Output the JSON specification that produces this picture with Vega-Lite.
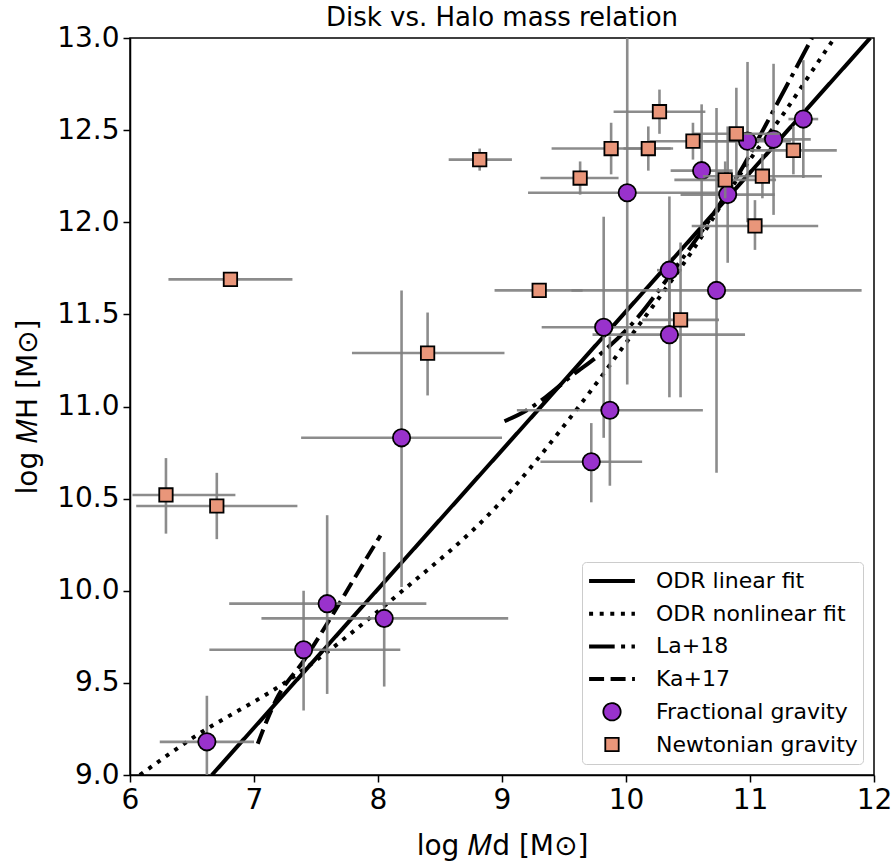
{
  "$schema": "https://vega.github.io/schema/vega-lite/v6.json",
  "width": 744,
  "height": 737,
  "autosize": {"type": "none"},
  "padding": {"left": 130, "top": 38, "right": 20, "bottom": 90},
  "background": "white",
  "title": {"text": "Disk vs. Halo mass relation", "fontSize": 26, "font": "DejaVu Sans", "fontWeight": "normal", "color": "black", "anchor": "middle", "offset": -7},
  "config": {
    "font": "DejaVu Sans",
    "view": {"stroke": "black", "strokeWidth": 1.5},
    "axis": {"grid": false, "domainColor": "black", "domainWidth": 1.5, "tickColor": "black", "tickWidth": 1.5, "tickSize": 7, "labelFontSize": 28, "titleFontSize": 28, "labelColor": "black", "titleColor": "black", "titleFontWeight": "normal", "labelFont": "DejaVu Sans", "titleFont": "DejaVu Sans", "labelPadding": 4, "labelOverlap": false, "labelFlush": false},
    "legend": {"orient": "bottom-right", "offset": 11, "title": null, "labelFontSize": 22, "labelFont": "DejaVu Sans", "labelColor": "black", "labelLimit": 400, "strokeColor": "#cccccc", "fillColor": "white", "cornerRadius": 4, "padding": 5, "rowPadding": 4.7, "clipHeight": 28, "labelOffset": 19, "symbolStrokeColor": "black"}
  },
  "datasets": {
    "fits": [
      {"series": "ODR linear fit", "x": 6.66, "y": 9.0},
      {"series": "ODR linear fit", "x": 11.97, "y": 13.0},
      {"series": "ODR nonlinear fit", "x": 6.08, "y": 9.0},
      {"series": "ODR nonlinear fit", "x": 6.48, "y": 9.19},
      {"series": "ODR nonlinear fit", "x": 7.29, "y": 9.52},
      {"series": "ODR nonlinear fit", "x": 8.18, "y": 9.99},
      {"series": "ODR nonlinear fit", "x": 8.96, "y": 10.46},
      {"series": "ODR nonlinear fit", "x": 9.62, "y": 11.0},
      {"series": "ODR nonlinear fit", "x": 10.07, "y": 11.41},
      {"series": "ODR nonlinear fit", "x": 10.53, "y": 11.84},
      {"series": "ODR nonlinear fit", "x": 11.0, "y": 12.34},
      {"series": "ODR nonlinear fit", "x": 11.24, "y": 12.56},
      {"series": "ODR nonlinear fit", "x": 11.55, "y": 12.87},
      {"series": "ODR nonlinear fit", "x": 11.68, "y": 13.0},
      {"series": "La+18", "x": 9.02, "y": 10.92},
      {"series": "La+18", "x": 9.2, "y": 10.98},
      {"series": "La+18", "x": 9.35, "y": 11.05},
      {"series": "La+18", "x": 9.55, "y": 11.16},
      {"series": "La+18", "x": 9.82, "y": 11.3},
      {"series": "La+18", "x": 10.09, "y": 11.48},
      {"series": "La+18", "x": 10.33, "y": 11.69},
      {"series": "La+18", "x": 10.62, "y": 11.96},
      {"series": "La+18", "x": 10.95, "y": 12.31},
      {"series": "La+18", "x": 11.2, "y": 12.62},
      {"series": "La+18", "x": 11.5, "y": 13.0},
      {"series": "Ka+17", "x": 7.03, "y": 9.17},
      {"series": "Ka+17", "x": 7.18, "y": 9.41},
      {"series": "Ka+17", "x": 7.4, "y": 9.62},
      {"series": "Ka+17", "x": 7.67, "y": 9.91},
      {"series": "Ka+17", "x": 7.83, "y": 10.09},
      {"series": "Ka+17", "x": 8.02, "y": 10.3}
    ],
    "frac": [
      {"series": "Fractional gravity", "x": 6.62, "y": 9.18, "xlo": 6.24, "xhi": 7.0, "ylo": 8.93, "yhi": 9.43},
      {"series": "Fractional gravity", "x": 7.4, "y": 9.68, "xlo": 6.64, "xhi": 8.18, "ylo": 9.35, "yhi": 10.0},
      {"series": "Fractional gravity", "x": 7.59, "y": 9.93, "xlo": 6.8, "xhi": 8.39, "ylo": 9.44, "yhi": 10.41},
      {"series": "Fractional gravity", "x": 8.05, "y": 9.85, "xlo": 7.06, "xhi": 9.05, "ylo": 9.48, "yhi": 10.21},
      {"series": "Fractional gravity", "x": 8.19, "y": 10.83, "xlo": 7.38, "xhi": 9.0, "ylo": 10.02, "yhi": 11.63},
      {"series": "Fractional gravity", "x": 9.72, "y": 10.7, "xlo": 9.31, "xhi": 10.13, "ylo": 10.48, "yhi": 10.91},
      {"series": "Fractional gravity", "x": 9.87, "y": 10.98, "xlo": 9.12, "xhi": 10.62, "ylo": 10.57, "yhi": 11.38},
      {"series": "Fractional gravity", "x": 9.82, "y": 11.43, "xlo": 9.32, "xhi": 10.33, "ylo": 10.83, "yhi": 12.03},
      {"series": "Fractional gravity", "x": 10.35, "y": 11.39, "xlo": 9.73, "xhi": 10.96, "ylo": 11.05, "yhi": 11.73},
      {"series": "Fractional gravity", "x": 10.35, "y": 11.74, "xlo": 10.25, "xhi": 10.45, "ylo": 11.34, "yhi": 12.14},
      {"series": "Fractional gravity", "x": 10.73, "y": 11.63, "xlo": 9.56, "xhi": 11.9, "ylo": 10.64, "yhi": 12.62},
      {"series": "Fractional gravity", "x": 10.01, "y": 12.16, "xlo": 9.21, "xhi": 10.81, "ylo": 11.12, "yhi": 13.2},
      {"series": "Fractional gravity", "x": 10.61, "y": 12.28, "xlo": 10.36, "xhi": 10.86, "ylo": 11.92, "yhi": 12.64},
      {"series": "Fractional gravity", "x": 10.82, "y": 12.15, "xlo": 10.44, "xhi": 11.2, "ylo": 11.78, "yhi": 12.52},
      {"series": "Fractional gravity", "x": 10.98, "y": 12.44, "xlo": 10.63, "xhi": 11.33, "ylo": 12.0, "yhi": 12.87},
      {"series": "Fractional gravity", "x": 11.19, "y": 12.45, "xlo": 10.89, "xhi": 11.49, "ylo": 12.04, "yhi": 12.86},
      {"series": "Fractional gravity", "x": 11.43, "y": 12.56, "xlo": 11.31, "xhi": 11.55, "ylo": 12.24, "yhi": 12.88}
    ],
    "newt": [
      {"series": "Newtonian gravity", "x": 6.29, "y": 10.52, "xlo": 6.02, "xhi": 6.85, "ylo": 10.31, "yhi": 10.72},
      {"series": "Newtonian gravity", "x": 6.7, "y": 10.46, "xlo": 6.05, "xhi": 7.35, "ylo": 10.28, "yhi": 10.64},
      {"series": "Newtonian gravity", "x": 6.81, "y": 11.69, "xlo": 6.31, "xhi": 7.31, "ylo": 11.67, "yhi": 11.71},
      {"series": "Newtonian gravity", "x": 8.4, "y": 11.29, "xlo": 7.79, "xhi": 9.02, "ylo": 11.06, "yhi": 11.51},
      {"series": "Newtonian gravity", "x": 8.82, "y": 12.34, "xlo": 8.57, "xhi": 9.08, "ylo": 12.28, "yhi": 12.4},
      {"series": "Newtonian gravity", "x": 9.63, "y": 12.24, "xlo": 9.31, "xhi": 9.94, "ylo": 12.15, "yhi": 12.33},
      {"series": "Newtonian gravity", "x": 9.88, "y": 12.4, "xlo": 9.4, "xhi": 10.36, "ylo": 12.26, "yhi": 12.54},
      {"series": "Newtonian gravity", "x": 10.18, "y": 12.4, "xlo": 9.98, "xhi": 10.38, "ylo": 12.28, "yhi": 12.52},
      {"series": "Newtonian gravity", "x": 10.27, "y": 12.6, "xlo": 9.9, "xhi": 10.64, "ylo": 12.48, "yhi": 12.72},
      {"series": "Newtonian gravity", "x": 10.54, "y": 12.44, "xlo": 10.19, "xhi": 10.89, "ylo": 12.34, "yhi": 12.54},
      {"series": "Newtonian gravity", "x": 10.89, "y": 12.48, "xlo": 10.54, "xhi": 11.24, "ylo": 12.23, "yhi": 12.73},
      {"series": "Newtonian gravity", "x": 11.35, "y": 12.39, "xlo": 11.0, "xhi": 11.7, "ylo": 12.26, "yhi": 12.52},
      {"series": "Newtonian gravity", "x": 11.1, "y": 12.25, "xlo": 10.62, "xhi": 11.58, "ylo": 12.13, "yhi": 12.37},
      {"series": "Newtonian gravity", "x": 10.8, "y": 12.23, "xlo": 10.39, "xhi": 11.21, "ylo": 12.13, "yhi": 12.33},
      {"series": "Newtonian gravity", "x": 11.04, "y": 11.98, "xlo": 10.53, "xhi": 11.55, "ylo": 11.85, "yhi": 12.12},
      {"series": "Newtonian gravity", "x": 10.44, "y": 11.47, "xlo": 10.13, "xhi": 10.75, "ylo": 11.05, "yhi": 11.89},
      {"series": "Newtonian gravity", "x": 9.3, "y": 11.63, "xlo": 8.94, "xhi": 9.65, "ylo": 11.6, "yhi": 11.66}
    ]
  },
  "encoding": {
    "x": {"field": "x", "type": "quantitative", "scale": {"domain": [6, 12], "nice": false, "zero": false}, "axis": {"title": "log 𝑀d [M⊙]", "values": [6, 7, 8, 9, 10, 11, 12], "format": "d", "titlePadding": 18}},
    "y": {"field": "y", "type": "quantitative", "scale": {"domain": [9, 13], "nice": false, "zero": false}, "axis": {"title": "log 𝑀H [M⊙]", "values": [9, 9.5, 10, 10.5, 11, 11.5, 12, 12.5, 13], "format": ".1f", "titlePadding": 14}}
  },
  "layer": [
    {
      "data": {"name": "fits"},
      "mark": {"type": "line", "color": "black", "clip": true, "interpolate": "monotone", "strokeCap": "butt"},
      "encoding": {
        "detail": {"field": "series", "type": "nominal"},
        "strokeDash": {"field": "series", "type": "nominal", "scale": {"domain": ["ODR linear fit", "ODR nonlinear fit", "La+18", "Ka+17", "Fractional gravity", "Newtonian gravity"], "range": [[1, 0], [4, 6.6], [25.6, 6.4, 4, 6.4], [15, 6.5], [1, 0], [1, 0]]}},
        "strokeWidth": {"field": "series", "type": "ordinal", "scale": {"type": "ordinal", "domain": ["ODR linear fit", "ODR nonlinear fit", "La+18", "Ka+17", "Fractional gravity", "Newtonian gravity"], "range": [4, 4, 4, 4, 1.8, 1.8]}}
      }
    },
    {
      "data": {"name": "frac"},
      "mark": {"type": "rule", "color": "#808080", "strokeWidth": 2.6, "opacity": 0.9, "clip": true},
      "encoding": {"x": {"field": "xlo", "type": "quantitative"}, "x2": {"field": "xhi"}, "y": {"field": "y", "type": "quantitative"}}
    },
    {
      "data": {"name": "frac"},
      "mark": {"type": "rule", "color": "#808080", "strokeWidth": 2.6, "opacity": 0.9, "clip": true},
      "encoding": {"y": {"field": "ylo", "type": "quantitative"}, "y2": {"field": "yhi"}, "x": {"field": "x", "type": "quantitative"}}
    },
    {
      "data": {"name": "frac"},
      "mark": {"type": "point", "filled": true, "stroke": "black", "strokeWidth": 1.8, "opacity": 1, "clip": true},
      "encoding": {
        "color": {"field": "series", "type": "nominal", "scale": {"domain": ["ODR linear fit", "ODR nonlinear fit", "La+18", "Ka+17", "Fractional gravity", "Newtonian gravity"], "range": ["black", "black", "black", "black", "#9932CC", "#E9967A"]}},
        "shape": {"field": "series", "type": "nominal", "scale": {"domain": ["ODR linear fit", "ODR nonlinear fit", "La+18", "Ka+17", "Fractional gravity", "Newtonian gravity"], "range": ["stroke", "stroke", "stroke", "stroke", "circle", "square"]}},
        "size": {"field": "series", "type": "ordinal", "scale": {"type": "ordinal", "domain": ["ODR linear fit", "ODR nonlinear fit", "La+18", "Ka+17", "Fractional gravity", "Newtonian gravity"], "range": [2100, 2100, 2100, 2100, 300, 180]}}
      }
    },
    {
      "data": {"name": "newt"},
      "mark": {"type": "rule", "color": "#808080", "strokeWidth": 2.6, "opacity": 0.9, "clip": true},
      "encoding": {"x": {"field": "xlo", "type": "quantitative"}, "x2": {"field": "xhi"}, "y": {"field": "y", "type": "quantitative"}}
    },
    {
      "data": {"name": "newt"},
      "mark": {"type": "rule", "color": "#808080", "strokeWidth": 2.6, "opacity": 0.9, "clip": true},
      "encoding": {"y": {"field": "ylo", "type": "quantitative"}, "y2": {"field": "yhi"}, "x": {"field": "x", "type": "quantitative"}}
    },
    {
      "data": {"name": "newt"},
      "mark": {"type": "point", "filled": true, "stroke": "black", "strokeWidth": 1.8, "opacity": 1, "clip": true},
      "encoding": {
        "color": {"field": "series", "type": "nominal", "scale": {"domain": ["ODR linear fit", "ODR nonlinear fit", "La+18", "Ka+17", "Fractional gravity", "Newtonian gravity"], "range": ["black", "black", "black", "black", "#9932CC", "#E9967A"]}},
        "shape": {"field": "series", "type": "nominal", "scale": {"domain": ["ODR linear fit", "ODR nonlinear fit", "La+18", "Ka+17", "Fractional gravity", "Newtonian gravity"], "range": ["stroke", "stroke", "stroke", "stroke", "circle", "square"]}},
        "size": {"field": "series", "type": "ordinal", "scale": {"type": "ordinal", "domain": ["ODR linear fit", "ODR nonlinear fit", "La+18", "Ka+17", "Fractional gravity", "Newtonian gravity"], "range": [2100, 2100, 2100, 2100, 300, 180]}}
      }
    }
  ]
}
